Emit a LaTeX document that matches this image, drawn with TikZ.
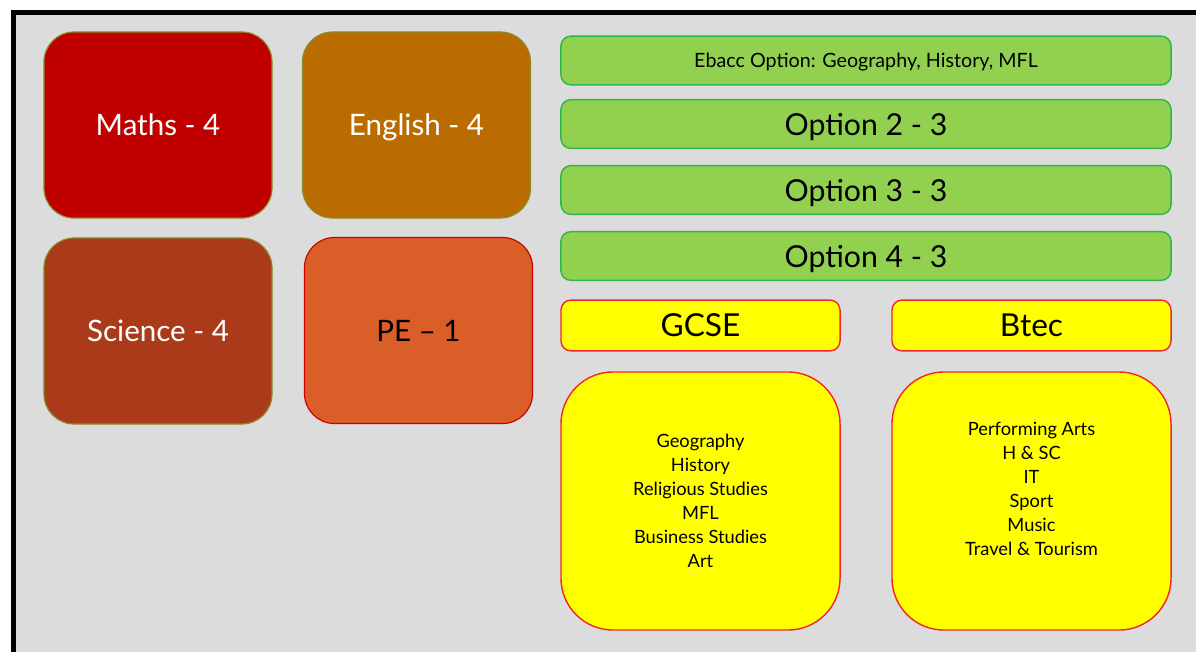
\documentclass[tikz,border=0pt]{standalone}
\usepackage{fontspec}
\setmainfont{Lato}
\usepackage{tikz}

\definecolor{bgback}{HTML}{DCDCDC}
\definecolor{mathsred}{HTML}{C00000}
\definecolor{engbrown}{HTML}{BA6C00}
\definecolor{scirust}{HTML}{AA3A1A}
\definecolor{peorange}{HTML}{DA5E28}
\definecolor{olivedge}{HTML}{8C8C28}
\definecolor{optgreen}{HTML}{92D050}
\definecolor{optedge}{HTML}{2EB54C}
\definecolor{redge}{HTML}{F0282A}
\definecolor{listyellow}{HTML}{FFFF00}

\tikzset{
  core/.style={rounded corners=0.75cm, draw=olivedge, line width=0.8pt, minimum width=5.7cm, minimum height=4.65cm, text depth=0pt, font=\fontsize{21}{25}\selectfont},
  optbar/.style={rounded corners=0.25cm, draw=optedge, fill=optgreen, line width=1pt, minimum width=15.25cm, minimum height=1.22cm, text depth=0pt, font=\fontsize{21.5}{25}\selectfont},
  kindbar/.style={rounded corners=0.25cm, draw=redge, fill=listyellow, line width=1pt, minimum width=6.975cm, minimum height=1.27cm, font=\fontsize{22.5}{26}\selectfont},
  listbox/.style={rounded corners=1.3cm, draw=redge, fill=listyellow, line width=1pt, minimum width=6.975cm, minimum height=6.45cm, align=center, font=\fontsize{13}{17}\selectfont}
}

\begin{document}
\begin{tikzpicture}[x=0.025cm, y=-0.025cm]
		\useasboundingbox (0,0) rectangle (1196,652);
		\fill[bgback] (16,15) rectangle (1196,652);
		\draw[line width=3.6pt] (13.5,652) -- (13.5,12.5) -- (1196,12.5);

		\node[core, fill=mathsred, text=white] (maths) at (158,125) {Maths - 4};
		\node[core, fill=engbrown, text=white] (english) at (416.5,125) {English - 4};
		\node[core, fill=scirust, text=white] (science) at (158,331) {Science - 4};
		\node[core, fill=peorange, draw=red!80!black] (pe) at (418.5,330.5) {PE -- 1};

		\node[optbar, font=\fontsize{14}{17}\selectfont] (ebacc) at (866,60.5) {Ebacc Option: Geography, History, MFL};
		\node[optbar] (opt2) at (866,124) {Option 2 - 3};
		\node[optbar] (opt3) at (866,190) {Option 3 - 3};
		\node[optbar] (opt4) at (866,256) {Option 4 - 3};

		\node[kindbar] (gcse) at (700.5,325.5) {GCSE};
		\node[kindbar] (btec) at (1031.5,325.5) {Btec};
		\node[listbox] (gcselist) at (700.5,501) {Geography\\History\\Religious Studies\\MFL\\Business Studies\\Art};
		\node[listbox] (bteclist) at (1031.5,501) {Performing Arts\\H \& SC\\IT\\Sport\\Music\\Travel \& Tourism\\ \mbox{}};
	\end{tikzpicture}
\end{document}
